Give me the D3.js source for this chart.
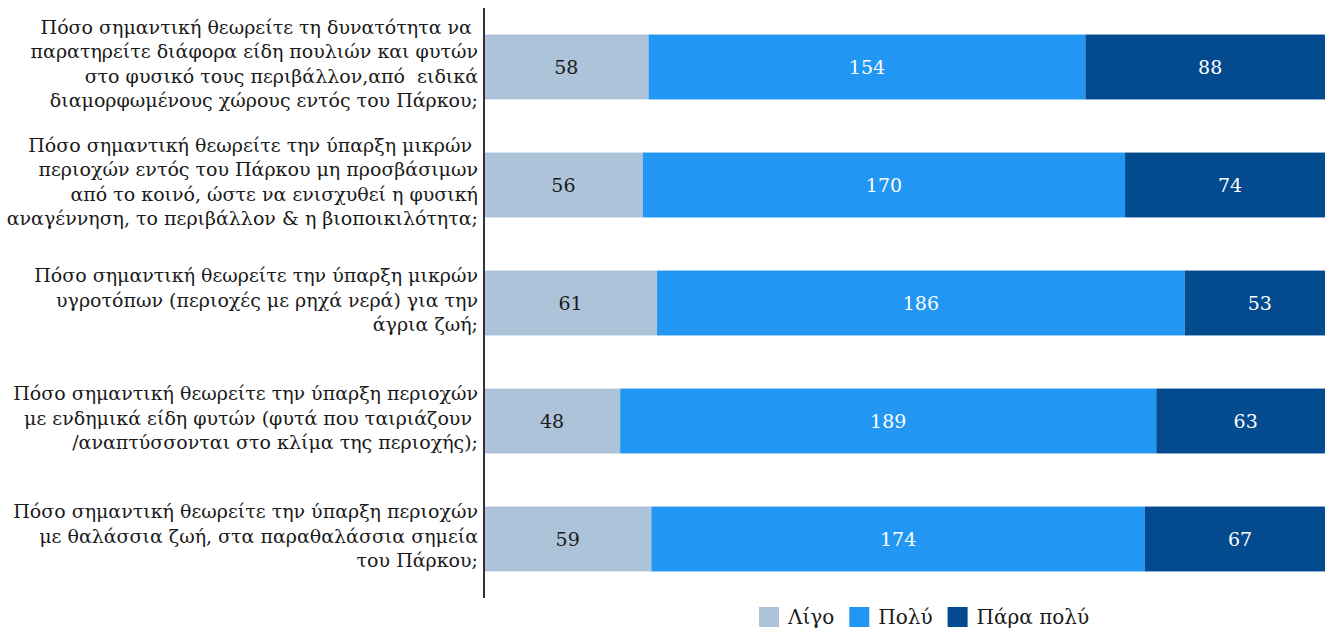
<!DOCTYPE html>
<meta charset="utf-8">
<head>
  <title>Stacked bars</title>
</head>
<style>
body { margin: 0; background: #fff; }
text { font-family: "DejaVu Serif", serif; }
.cat { fill: #1a1a1a; font-size: 19px; }
.val { font-size: 19px; }
.leg { fill: #1a1a1a; font-size: 20px; }
</style>
<body>
  <svg width="1325" height="630"></svg>
  <script src="https://cdnjs.cloudflare.com/ajax/libs/d3/7.8.5/d3.min.js"></script>
  <script>
// data
var questions = [
  ["Πόσο σημαντική θεωρείτε τη δυνατότητα να ", "παρατηρείτε διάφορα είδη πουλιών και φυτών", "στο φυσικό τους περιβάλλον,από  ειδικά", "διαμορφωμένους χώρους εντός του Πάρκου;"],
  ["Πόσο σημαντική θεωρείτε την ύπαρξη μικρών ", "περιοχών εντός του Πάρκου μη προσβάσιμων", "από το κοινό, ώστε να ενισχυθεί η φυσική", "αναγέννηση, το περιβάλλον & η βιοποικιλότητα;"],
  ["Πόσο σημαντική θεωρείτε την ύπαρξη μικρών", "υγροτόπων (περιοχές με ρηχά νερά) για την", "άγρια ζωή;"],
  ["Πόσο σημαντική θεωρείτε την ύπαρξη περιοχών", "με ενδημικά είδη φυτών (φυτά που ταιριάζουν ", "/αναπτύσσονται στο κλίμα της περιοχής);"],
  ["Πόσο σημαντική θεωρείτε την ύπαρξη περιοχών", "με θαλάσσια ζωή, στα παραθαλάσσια σημεία", "του Πάρκου;"]
];
var seriesNames = ["Λίγο", "Πολύ", "Πάρα πολύ"];
var ligo = [58, 56, 61, 48, 59];
var poly = [154, 170, 186, 189, 174];
var paraPoly = [88, 74, 53, 63, 67];
var colors = ["#adc3d9", "#2196f3", "#034a8f"];
var textColors = ["#1a1a1a", "#ffffff", "#ffffff"];

var rows = questions.map(function(q, i) {
  return { idx: i, "Λίγο": ligo[i], "Πολύ": poly[i], "Πάρα πολύ": paraPoly[i] };
});

var svg = d3.select("svg");
var x0 = 484;

var x = d3.scaleLinear().domain([0, 300]).range([x0, 1335]);
var y = d3.scaleBand().domain(d3.range(questions.length)).range([8, 598])
  .paddingInner(0.45).paddingOuter(0.225);

var stack = d3.stack().keys(seriesNames)(rows);

var layers = svg.append("g").selectAll("g.layer")
  .data(stack)
  .enter().append("g")
  .attr("class", "layer");

layers.selectAll("rect")
  .data(function(d) { return d; })
  .enter().append("rect")
  .attr("x", function(d) { return x(d[0]); })
  .attr("y", function(d) { return y(d.data.idx); })
  .attr("width", function(d) { return x(d[1]) - x(d[0]); })
  .attr("height", y.bandwidth())
  .attr("fill", function(d, i, n) { return colors[d3.select(n[i].parentNode).datum().index]; });

layers.selectAll("text")
  .data(function(d) { return d.map(function(v) { return { v: v, k: d.index }; }); })
  .enter().append("text")
  .attr("class", "val")
  .attr("x", function(d) { return (x(d.v[0]) + x(d.v[1])) / 2; })
  .attr("y", function(d) { return y(d.v.data.idx) + y.bandwidth() / 2; })
  .attr("dy", "0.35em")
  .attr("text-anchor", "middle")
  .attr("fill", function(d) { return textColors[d.k]; })
  .text(function(d) { return d.v[1] - d.v[0]; });

// category labels
var lineH = 24.5;
svg.append("g").selectAll("text.cat")
  .data(questions)
  .enter().append("text")
  .attr("class", "cat")
  .attr("text-anchor", "end")
  .attr("xml:space", "preserve")
  .each(function(lines, i) {
    var cy = y(i) + y.bandwidth() / 2 - 3;
    var top = cy - (lines.length - 1) * lineH / 2;
    d3.select(this).selectAll("tspan")
      .data(lines)
      .enter().append("tspan")
      .attr("x", 478)
      .attr("y", function(l, j) { return top + j * lineH; })
      .attr("dy", "0.35em")
      .text(function(l) { return l; });
  });

// axis line
svg.append("line")
  .attr("x1", x0).attr("x2", x0)
  .attr("y1", 8).attr("y2", 598)
  .attr("stroke", "#333")
  .attr("stroke-width", 2);

// legend
var legend = svg.append("g");
var lx = 759;
seriesNames.forEach(function(name, i) {
  legend.append("rect")
    .attr("x", lx).attr("y", 607)
    .attr("width", 20).attr("height", 20)
    .attr("fill", colors[i]);
  var t = legend.append("text")
    .attr("class", "leg")
    .attr("x", lx + 29).attr("y", 617)
    .attr("dy", "0.35em")
    .text(name);
  lx += 29 + t.node().getComputedTextLength() + 15;
});
  </script>
</body>
</html>
